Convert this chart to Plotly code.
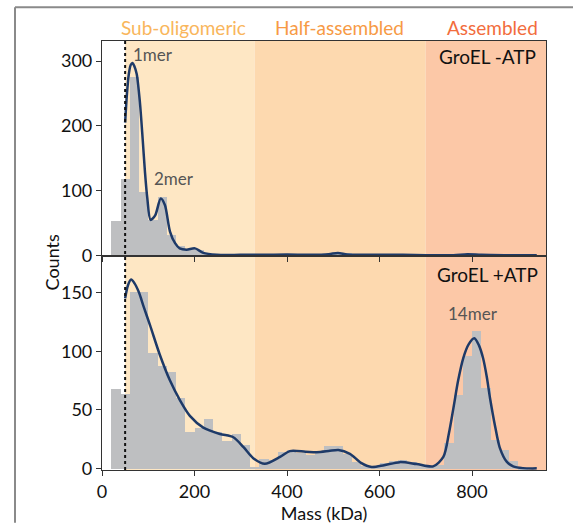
import plotly.graph_objects as go

# ---------------- data ----------------
bin_width = 20
bin_left = list(range(20, 940, 20))  # left edges of 20 kDa bins

counts_noatp = [54, 118, 276, 98, 55, 90, 32, 14, 10, 8, 3, 2, 1, 1, 1, 1, 1, 0, 1, 1,
                1, 1, 2, 2, 3, 4, 2, 1, 1, 1, 1, 1, 1, 0, 1, 2, 1, 1, 0, 0,
                1, 2, 1, 1, 0, 0]
counts_atp = [68, 64, 151, 151, 99, 88, 83, 61, 32, 35, 43, 32, 24, 30, 21, 2, 9, 8, 15, 16,
              14, 12, 14, 20, 20, 13, 6, 3, 2, 5, 7, 8, 6, 4, 2, 4, 22, 63, 96, 118,
              69, 25, 16, 7, 1, 0]

kde_mass_noatp = [50, 54, 58, 62, 66, 70, 75, 82, 88, 93, 98, 105, 115, 127, 136, 147, 158, 168,
                  183, 201, 219, 248, 300, 350, 400, 450, 490, 510, 530, 560, 600, 650, 700, 760,
                  790, 820, 870, 940]
kde_counts_noatp = [205, 250, 280, 294, 297, 292, 280, 236, 179, 128, 88, 55, 62, 88, 78, 37, 19, 11,
                    9, 11, 4, 1.2, 1, 1, 1.5, 1, 2, 4, 1.5, 1, 1, 1, 0.5, 0.5,
                    2, 1, 0.5, 0.5]

kde_mass_atp = [50, 56, 63, 70, 80, 90, 104, 125, 147, 169, 190, 219, 255, 284, 306, 327, 352, 385,
                406, 440, 464, 490, 511, 536, 560, 583, 610, 644, 680, 716, 738, 750, 760, 770,
                781, 793, 805, 815, 824, 832, 839, 850, 860, 875, 889, 910, 940]
kde_counts_atp = [145, 156, 161, 158, 150, 138, 122, 97, 75, 58, 45, 35, 29.6, 26.8, 18.3, 9, 4.2, 10,
                  15, 14.5, 14, 15, 16, 12.7, 5, 1.5, 3, 5.6, 4, 2, 10, 30, 52, 75,
                  94, 106, 111, 105, 94, 78, 60, 36, 18, 6, 2, 0.5, 0.3]

regions = ["Sub-oligomeric", "Half-assembled", "Assembled"]
region_bounds = [(50, 330), (330, 700), (700, 960)]
region_fill = ["#FEE7C4", "#FDD9AF", "#FCC8A7"]
region_text = ["#F9B65C", "#F79A45", "#F26D3D"]

monomer_mass = 50
x_ticks = [0, 200, 400, 600, 800]
y_ticks_top = [0, 100, 200, 300]
y_ticks_bot = [0, 50, 100, 150]

FONT = "Lato"
BAR = "#BEBFC1"
LINE = "#1E3A68"

bin_centers = [b + bin_width / 2 for b in bin_left]

fig = go.Figure()
fig.add_trace(go.Bar(x=bin_centers, y=counts_noatp, width=bin_width, marker=dict(color=BAR, line=dict(width=0)),
                     xaxis="x", yaxis="y", showlegend=False))
fig.add_trace(go.Scatter(x=kde_mass_noatp, y=kde_counts_noatp, mode="lines",
                         line=dict(color=LINE, width=2.5, shape="spline", smoothing=0.8),
                         xaxis="x", yaxis="y", showlegend=False))
fig.add_trace(go.Bar(x=bin_centers, y=counts_atp, width=bin_width, marker=dict(color=BAR, line=dict(width=0)),
                     xaxis="x2", yaxis="y2", showlegend=False))
fig.add_trace(go.Scatter(x=kde_mass_atp, y=kde_counts_atp, mode="lines",
                         line=dict(color=LINE, width=2.5, shape="spline", smoothing=0.8),
                         xaxis="x2", yaxis="y2", showlegend=False))

shapes = []
for (x0, x1), col in zip(region_bounds, region_fill):
    for xr, yr in (("x", "y domain"), ("x2", "y2 domain")):
        shapes.append(dict(type="rect", xref=xr, yref=yr, x0=x0, x1=x1, y0=0, y1=1,
                           fillcolor=col, line=dict(width=0), layer="below"))
# dotted monomer line across both panels
shapes.append(dict(type="line", xref="x", yref="paper", x0=monomer_mass, x1=monomer_mass, y0=0, y1=1,
                   line=dict(color="#111111", width=2, dash="dot"), layer="above"))
# grey frame of the original figure (top and left)
W, H = 573, 526
ml, mr, mt, mb = 102, 27, 41, 53
pw, ph = W - ml - mr, H - mt - mb
def px(xp):
    return (xp - ml) / pw
def py(yp):
    return (H - mb - yp) / ph
shapes.append(dict(type="line", xref="paper", yref="paper", x0=px(15), x1=px(573), y0=py(7), y1=py(7),
                   line=dict(color="#8A8A8A", width=2)))
shapes.append(dict(type="line", xref="paper", yref="paper", x0=px(15), x1=px(15), y0=py(7), y1=py(526),
                   line=dict(color="#8A8A8A", width=2)))

annotations = []
centers = [183, 339, 492]
for name, col, cx in zip(regions, region_text, centers):
    annotations.append(dict(text=name, xref="paper", yref="paper", x=px(cx), y=py(27), showarrow=False,
                            font=dict(family=FONT, size=19, color=col), xanchor="center", yanchor="middle"))
annotations += [
    dict(text="1mer", x=63, y=310, xref="x", yref="y", showarrow=False, xanchor="left", yanchor="middle",
         font=dict(family=FONT, size=17, color="#555555")),
    dict(text="2mer", x=109, y=119, xref="x", yref="y", showarrow=False, xanchor="left", yanchor="middle",
         font=dict(family=FONT, size=17, color="#555555")),
    dict(text="14mer", x=803, y=132, xref="x2", yref="y2", showarrow=False, xanchor="center", yanchor="middle",
         font=dict(family=FONT, size=17, color="#555555")),
    dict(text="GroEL -ATP", x=943, y=307, xref="x", yref="y", showarrow=False, xanchor="right", yanchor="middle",
         font=dict(family=FONT, size=19, color="#111111")),
    dict(text="GroEL +ATP", x=946, y=165, xref="x2", yref="y2", showarrow=False, xanchor="right", yanchor="middle",
         font=dict(family=FONT, size=19, color="#111111")),
    dict(text="Counts", xref="paper", yref="paper", x=px(52), y=py(264), showarrow=False, textangle=-90,
         xanchor="center", yanchor="middle", font=dict(family=FONT, size=18, color="#111111")),
]

axis_common = dict(showgrid=False, zeroline=False, showline=True, linecolor="#333333", linewidth=1.2,
                   mirror=True, ticks="outside", ticklen=5, tickwidth=1.2, tickcolor="#333333",
                   tickfont=dict(family=FONT, size=18, color="#111111"))

fig.update_layout(
    width=W, height=H,
    margin=dict(l=ml, r=mr, t=mt, b=mb),
    paper_bgcolor="white", plot_bgcolor="white",
    bargap=0, barmode="overlay",
    font=dict(family=FONT, color="#111111"),
    xaxis=dict(domain=[0, 1], range=[0, 960], anchor="y", tickvals=x_ticks, showticklabels=False, **axis_common),
    yaxis=dict(domain=[0.5, 1], range=[0, 331], anchor="x", tickvals=y_ticks_top, **axis_common),
    xaxis2=dict(domain=[0, 1], range=[0, 960], anchor="y2", tickvals=x_ticks,
                title=dict(text="Mass (kDa)", font=dict(family=FONT, size=18, color="#111111"), standoff=0),
                **axis_common),
    yaxis2=dict(domain=[0, 0.5], range=[-1.1, 181.5], anchor="x2", tickvals=y_ticks_bot, **axis_common),
    shapes=shapes,
    annotations=annotations,
)

fig.write_html("out.html")
